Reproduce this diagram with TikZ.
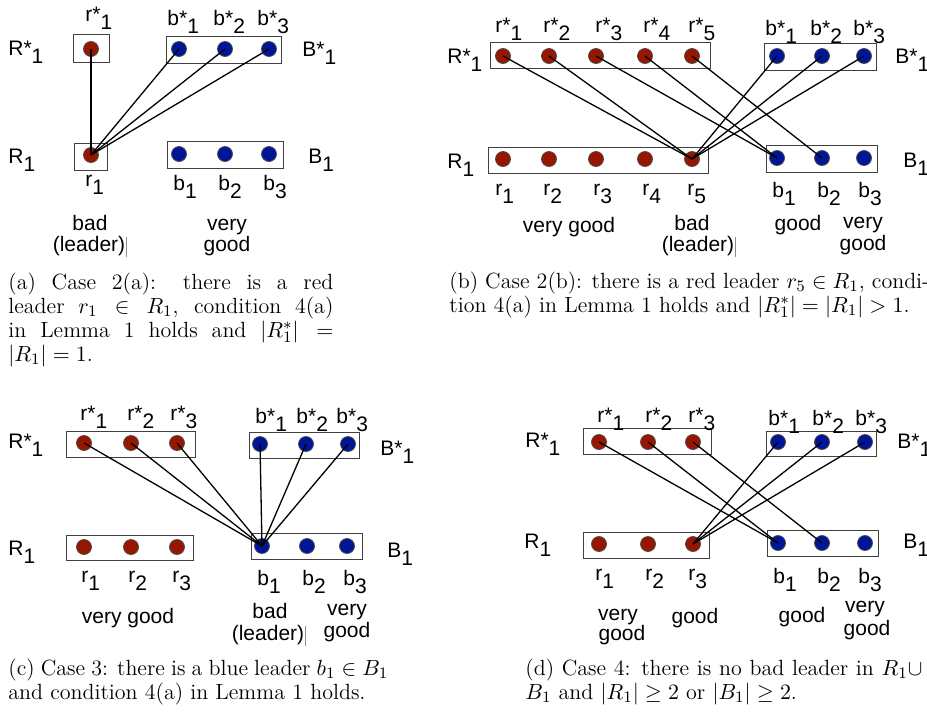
\documentclass[tikz,border=0pt]{standalone}
\usepackage{fontspec}
\newfontfamily\arial{Liberation Sans}
\newcommand\lsb[2]{#1\raisebox{-4.3pt}{#2}}
\definecolor{dred}{RGB}{150,22,0}
\definecolor{dblue}{RGB}{0,22,150}
\tikzset{
 rdot/.style={circle, fill=dred, draw=black!70, line width=0.4pt, minimum size=7.5pt, inner sep=0pt},
 bdot/.style={circle, fill=dblue, draw=black!70, line width=0.4pt, minimum size=7.5pt, inner sep=0pt},
 grp/.style={draw=black!75, line width=0.5pt},
 edge/.style={draw=black, line width=0.65pt},
 lab/.style={font=\arial\fontsize{10.5}{12}\selectfont, inner sep=0pt, anchor=base west},
 ctext/.style={font=\arial\fontsize{10.5}{12}\selectfont, inner sep=0pt, anchor=base},
 capt/.style={inner sep=0pt, anchor=base west, font=\fontsize{11}{12}\selectfont},
 bar/.style={draw=black!45, line width=0.5pt}
}
\begin{document}
\begin{tikzpicture}[x=0.5pt,y=-0.5pt]
\useasboundingbox (0,0) rectangle (927,713);

% ---------------- panel (a)
\draw[grp] (73,34) rectangle (109,62);
\draw[grp] (166,36) rectangle (281,63);
\draw[grp] (74,143) rectangle (107,170);
\draw[grp] (167,141) rectangle (283,168);
\node[rdot] (a-rs1) at (91,49) {};
\node[rdot] (a-r1) at (91,155) {};
\foreach \i/\x in {1/179,2/225,3/269} {
  \node[bdot] (a-bs\i) at (\x,49) {};
  \node[bdot] (a-b\i) at (\x,154) {};
}
\node[lab] (a-Rs) at (8,55) {\lsb{R*}{1}};
\node[lab] (a-Bs) at (302,56) {\lsb{B*}{1}};
\node[lab] (a-R) at (8,163) {\lsb{R}{1}};
\node[lab] (a-B) at (308,163) {\lsb{B}{1}};
\node[lab] (a-trs1) at (85,21) {\lsb{r*}{1}};
\foreach \i/\x in {1/167,2/213,3/257} \node[lab] (a-tbs\i) at (\x,25) {\lsb{b*}{\i}};
\node[lab] (a-tr1) at (85,186) {\lsb{r}{1}};
\foreach \i/\x in {1/173,2/218,3/263} \node[lab] (a-tb\i) at (\x,190) {\lsb{b}{\i}};
\node[ctext] (a-bad) at (90,230) {bad};
\node[ctext] (a-lead) at (89,251) {(leader)};
\draw[bar] ([xshift=0.6pt,yshift=-3pt]a-lead.base east) -- ++(0pt,10pt);
\node[ctext] (a-very) at (227,230) {very};
\node[ctext] (a-good) at (227,251) {good};
\foreach \t in {a-rs1,a-bs1,a-bs2,a-bs3} \draw[edge] (a-r1.center) -- (\t.center);

% ---------------- panel (b)
\draw[grp] (490,42) rectangle (710,68);
\draw[grp] (764,43) rectangle (876,70);
\draw[grp] (488,147) rectangle (708,173);
\draw[grp] (766,145) rectangle (877,172);
\foreach \i/\x in {1/503,2/549,3/596,4/645,5/692} {
  \node[rdot] (b-rs\i) at (\x,56) {};
  \node[rdot] (b-r\i) at (\x,159) {};
}
\foreach \i/\x in {1/777,2/822,3/864} {
  \node[bdot] (b-bs\i) at (\x,56) {};
  \node[bdot] (b-b\i) at (\x,158) {};
}
\node[lab] (b-Rs) at (447,63) {\lsb{R*}{1}};
\node[lab] (b-Bs) at (895,63) {\lsb{B*}{1}};
\node[lab] (b-R) at (447,168) {\lsb{R}{1}};
\node[lab] (b-B) at (903,167) {\lsb{B}{1}};
\foreach \i/\x in {1/495,2/543,3/595,4/643,5/688} \node[lab] (b-trs\i) at (\x,32) {\lsb{r*}{\i}};
\foreach \i/\x in {1/765,2/810,3/853} \node[lab] (b-tbs\i) at (\x,35) {\lsb{b*}{\i}};
\foreach \i/\x in {1/495,2/543,3/593,4/642,5/687} \node[lab] (b-tr\i) at (\x,195) {\lsb{r}{\i}};
\foreach \i/\x in {1/772,2/817,3/858} \node[lab] (b-tb\i) at (\x,197) {\lsb{b}{\i}};
\node[ctext] (b-vg) at (569,232) {very good};
\node[ctext] (b-bad) at (692,230) {bad};
\node[ctext] (b-lead) at (698,251) {(leader)};
\draw[bar] ([xshift=0.6pt,yshift=-3pt]b-lead.base east) -- ++(0pt,10pt);
\node[ctext] (b-good) at (798,230) {good};
\node[ctext] (b-very) at (863,228) {very};
\node[ctext] (b-good2) at (863,250) {good};
\foreach \t in {b-rs1,b-rs2,b-bs1,b-bs2,b-bs3} \draw[edge] (b-r5.center) -- (\t.center);
\foreach \t in {b-rs3,b-rs4} \draw[edge] (b-b1.center) -- (\t.center);
\draw[edge] (b-b2.center) -- (b-rs5.center);

% ---------------- panel (c)
\draw[grp] (66,431) rectangle (195,457);
\draw[grp] (249,432) rectangle (359,458);
\draw[grp] (66,535) rectangle (193,560);
\draw[grp] (251,533) rectangle (362,559);
\foreach \i/\x in {1/84,2/131,3/177} {
  \node[rdot] (c-rs\i) at (\x,443) {};
  \node[rdot] (c-r\i) at (\x,547) {};
}
\foreach \i/\x in {1/260,2/306,3/348} \node[bdot] (c-bs\i) at (\x,444) {};
\foreach \i/\x in {1/262,2/307,3/347} \node[bdot] (c-b\i) at (\x,546) {};
\node[lab] (c-Rs) at (8,448) {\lsb{R*}{1}};
\node[lab] (c-Bs) at (380,455) {\lsb{B*}{1}};
\node[lab] (c-R) at (8,555) {\lsb{R}{1}};
\node[lab] (c-B) at (387,557) {\lsb{B}{1}};
\foreach \i/\x in {1/80,2/127,3/170} \node[lab] (c-trs\i) at (\x,420) {\lsb{r*}{\i}};
\foreach \i/\x in {1/255,2/296,3/336} \node[lab] (c-tbs\i) at (\x,423) {\lsb{b*}{\i}};
\foreach \i/\x in {1/81,2/128,3/172} \node[lab] (c-tr\i) at (\x,582) {\lsb{r}{\i}};
\foreach \i/\x in {1/257,2/302,3/343} \node[lab] (c-tb\i) at (\x,585) {\lsb{b}{\i}};
\node[ctext] (c-vg) at (128,623) {very good};
\node[ctext] (c-bad) at (270,618) {bad};
\node[ctext] (c-lead) at (268,640) {(leader)};
\draw[bar] ([xshift=0.6pt,yshift=-3pt]c-lead.base east) -- ++(0pt,10pt);
\node[ctext] (c-very) at (347,615) {very};
\node[ctext] (c-good) at (347,637) {good};
\foreach \t in {c-rs1,c-rs2,c-rs3,c-bs1,c-bs2,c-bs3} \draw[edge] (c-b1.center) -- (\t.center);

% ---------------- panel (d)
\draw[grp] (583,428) rectangle (711,454);
\draw[grp] (766,431) rectangle (876,456);
\draw[grp] (583,532) rectangle (709,558);
\draw[grp] (767,530) rectangle (878,556);
\foreach \i/\x in {1/599,2/648,3/693} {
  \node[rdot] (d-rs\i) at (\x,442) {};
  \node[rdot] (d-r\i) at (\x,544) {};
}
\foreach \i/\x in {1/778,2/822,3/865} {
  \node[bdot] (d-bs\i) at (\x,442) {};
  \node[bdot] (d-b\i) at (\x,543) {};
}
\node[lab] (d-Rs) at (525,447) {\lsb{R*}{1}};
\node[lab] (d-Bs) at (897,448) {\lsb{B*}{1}};
\node[lab] (d-R) at (524,548) {\lsb{R}{1}};
\node[lab] (d-B) at (903,548) {\lsb{B}{1}};
\foreach \i/\x in {1/597,2/645,3/688} \node[lab] (d-trs\i) at (\x,422) {\lsb{r*}{\i}};
\foreach \i/\x in {1/768,2/812,3/855} \node[lab] (d-tbs\i) at (\x,425) {\lsb{b*}{\i}};
\foreach \i/\x in {1/595,2/645,3/688} \node[lab] (d-tr\i) at (\x,580) {\lsb{r}{\i}};
\foreach \i/\x in {1/773,2/817,3/858} \node[lab] (d-tb\i) at (\x,583) {\lsb{b}{\i}};
\node[ctext] (d-very) at (618,620) {very};
\node[ctext] (d-good) at (622,640) {good};
\node[ctext] (d-good2) at (695,623) {good};
\node[ctext] (d-good3) at (802,622) {good};
\node[ctext] (d-very2) at (865,612) {very};
\node[ctext] (d-good4) at (867,635) {good};
\foreach \t in {d-bs1,d-bs2,d-bs3} \draw[edge] (d-r3.center) -- (\t.center);
\foreach \t in {d-rs1,d-rs2} \draw[edge] (d-b1.center) -- (\t.center);
\draw[edge] (d-b2.center) -- (d-rs3.center);

% ---------------- captions
\node[capt] (capa) at (8,289) {\parbox[t]{162.5pt}{%
\makebox[162.5pt][s]{(a) Case 2(a): there is a red}\\
\makebox[162.5pt][s]{leader $r_1 \in R_1$, condition 4(a)}\\
\makebox[162.5pt][s]{in Lemma 1 holds and $|R_1^*| =$}\\
$|R_1| = 1$.}};
\node[capt] (capb) at (449,288) {\parbox[t]{240pt}{%
(b) Case 2(b): there is a red leader $r_5 \in R_1$, condi-\\
tion 4(a) in Lemma 1 holds and $|R_1^*| = |R_1| > 1$.}};
\node[capt] (capc) at (8,675) {\parbox[t]{250pt}{%
\makebox[190pt][s]{(c) Case 3: there is a blue leader $b_1 \in B_1$}\\
and condition 4(a) in Lemma 1 holds.}};
\node[capt] (capd) at (525,675) {\parbox[t]{250pt}{%
\makebox[198.5pt][s]{(d) Case 4: there is no bad leader in $R_1\cup$}\\
$B_1$ and $|R_1| \geq 2$ or $|B_1| \geq 2$.}};
\end{tikzpicture}
\end{document}
